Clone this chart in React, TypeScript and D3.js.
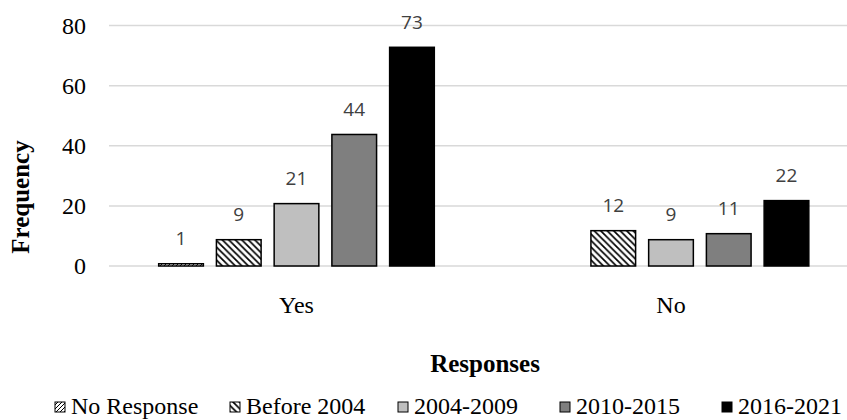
import React from "react";
import * as d3 from "d3";

const categories = ["Yes", "No"];
const seriesNames = ["No Response", "Before 2004", "2004-2009", "2010-2015", "2016-2021"];
const noResponse: (number | null)[] = [1, null];
const before2004: (number | null)[] = [9, 12];
const y2004to2009: (number | null)[] = [21, 9];
const y2010to2015: (number | null)[] = [44, 11];
const y2016to2021: (number | null)[] = [73, 22];
const yTicks = [0, 20, 40, 60, 80];
const xTitle = "Responses";
const yTitle = "Frequency";

const W = 847;
const H = 420;

export default function App() {
  const seriesValues = [noResponse, before2004, y2004to2009, y2010to2015, y2016to2021];
  const fills = ["url(#pNoResp)", "url(#pBefore)", "#bfbfbf", "#7f7f7f", "#000000"];

  const y = d3.scaleLinear().domain([0, 80]).range([266, 25.5]);
  const x0 = d3
    .scaleBand<string>()
    .domain(categories)
    .range([109.25, 858.25])
    .paddingInner(0.26)
    .paddingOuter(0.13);
  const x1 = d3
    .scaleBand<string>()
    .domain(seriesNames)
    .range([0, x0.bandwidth()])
    .paddingInner(0.2)
    .paddingOuter(0);

  const legendTextX = [71, 246, 414, 576, 738];
  const serif = "'Liberation Serif', 'Times New Roman', serif";
  const sans = "'Open Sans', 'Noto Sans', sans-serif";

  return (
    <svg
      width={W}
      height={H}
      style={{ position: "absolute", left: 0, top: 0, background: "#fff" }}
    >
      <defs>
        <pattern id="pNoResp" patternUnits="userSpaceOnUse" width={4} height={4}>
          <rect width={4} height={4} fill="#fff" />
          <rect x={0} y={3} width={1} height={1} fill="#000" />
          <rect x={1} y={2} width={1} height={1} fill="#000" />
          <rect x={2} y={1} width={1} height={1} fill="#000" />
          <rect x={3} y={0} width={1} height={1} fill="#000" />
        </pattern>
        <pattern id="pBefore" patternUnits="userSpaceOnUse" width={6.5} height={6.5}>
          <rect width={6.5} height={6.5} fill="#fff" />
          <path
            d="M0,0 L6.5,6.5 M-3.25,3.25 L3.25,9.75 M3.25,-3.25 L9.75,3.25"
            stroke="#000"
            strokeWidth={1.7}
          />
        </pattern>
      </defs>

      {/* gridlines */}
      {yTicks.map((t) => (
        <line
          key={"g" + t}
          x1={109}
          x2={W}
          y1={y(t)}
          y2={y(t)}
          stroke="#d9d9d9"
          strokeWidth={1.5}
        />
      ))}

      {/* y tick labels */}
      {yTicks.map((t) => (
        <text
          key={"t" + t}
          x={86}
          y={y(t)}
          dy="0.35em"
          textAnchor="end"
          fontFamily={serif}
          fontSize={24}
          fill="#000"
        >
          {t}
        </text>
      ))}

      {/* bars */}
      {categories.map((c, ci) => (
        <g key={c} transform={`translate(${x0(c)},0)`}>
          {seriesNames.map((s, si) => {
            const v = seriesValues[si][ci];
            if (v === null || v === undefined) return null;
            const bx = x1(s)!;
            const bw = x1.bandwidth();
            return (
              <g key={s}>
                <rect
                  x={bx + 0.75}
                  y={y(v) + 0.75}
                  width={bw - 1.5}
                  height={Math.max(0, y(0) - y(v) - 0.75)}
                  fill={fills[si]}
                  stroke="#000"
                  strokeWidth={1.5}
                />
                <text
                  x={bx + bw / 2}
                  y={y(v) - 18}
                  textAnchor="middle"
                  fontFamily={sans}
                  fontSize={19}
                  fill="#404040"
                >
                  {v}
                </text>
              </g>
            );
          })}
        </g>
      ))}

      {/* category labels */}
      {categories.map((c) => (
        <text
          key={"c" + c}
          x={x0(c)! + x0.bandwidth() / 2}
          y={313}
          textAnchor="middle"
          fontFamily={serif}
          fontSize={24}
          fill="#000"
        >
          {c}
        </text>
      ))}

      {/* axis titles */}
      <text
        x={485}
        y={372}
        textAnchor="middle"
        fontFamily={serif}
        fontSize={25}
        fontWeight="bold"
        fill="#000"
      >
        {xTitle}
      </text>
      <text
        transform="translate(29,197) rotate(-90)"
        textAnchor="middle"
        fontFamily={serif}
        fontSize={25}
        fontWeight="bold"
        fill="#000"
      >
        {yTitle}
      </text>

      {/* legend */}
      {seriesNames.map((s, si) => (
        <g key={"l" + s}>
          <rect
            x={legendTextX[si] - 16}
            y={402}
            width={10}
            height={10}
            fill={fills[si]}
            stroke="#000"
            strokeWidth={1}
          />
          <text
            x={legendTextX[si]}
            y={414}
            fontFamily={serif}
            fontSize={24}
            fill="#000"
          >
            {s}
          </text>
        </g>
      ))}
    </svg>
  );
}
